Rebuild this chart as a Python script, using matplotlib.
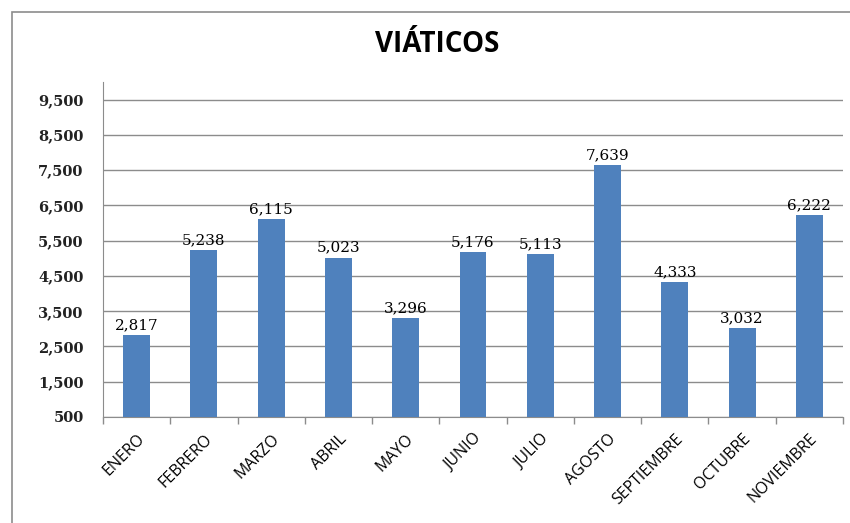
import matplotlib
matplotlib.use('Agg')
import matplotlib.pyplot as plt
from matplotlib.patches import Rectangle
import numpy as np

# Data
meses = ['ENERO', 'FEBRERO', 'MARZO', 'ABRIL', 'MAYO', 'JUNIO', 'JULIO',
         'AGOSTO', 'SEPTIEMBRE', 'OCTUBRE', 'NOVIEMBRE']
viaticos = [2817, 5238, 6115, 5023, 3296, 5176, 5113, 7639, 4333, 3032, 6222]
y_ticks = [500, 1500, 2500, 3500, 4500, 5500, 6500, 7500, 8500, 9500]

bar_color = '#4F81BD'
grid_color = '#8C8C8C'

fig = plt.figure(figsize=(8.5, 5.23), dpi=100)
ax = fig.add_axes([103 / 850, 1 - 417 / 523, 740 / 850, 335 / 523])

# chart border (cropped on right and bottom like the original)
fig.patches.append(Rectangle((12 / 850, -0.1), 1.2, 1 - 12 / 523 + 0.1,
                             transform=fig.transFigure, fill=False,
                             edgecolor='#8C8C8C', linewidth=1.2))

x = np.arange(len(meses))
ax.bar(x, np.array(viaticos) - 500, bottom=500, width=0.4, color=bar_color, zorder=3)

for xi, v in zip(x, viaticos):
    ax.annotate(f'{v:,}', (xi, v), xytext=(0, 2), textcoords='offset points',
                ha='center', va='bottom', fontsize=11,
                family='DejaVu Serif', color='black', zorder=4)

ax.set_xlim(-0.5, len(meses) - 0.5)
ax.set_ylim(500, 10000)
ax.set_yticks(y_ticks)
ax.set_yticklabels([f'{t:,}' for t in y_ticks], family='DejaVu Serif',
                   fontsize=10.5, fontweight='bold', color='#222222')
ax.yaxis.grid(True, color=grid_color, linewidth=1, zorder=0)
ax.tick_params(axis='y', length=0, pad=14)

ax.set_xticks(x)
ax.set_xticklabels(meses, rotation=45, ha='right', rotation_mode='anchor',
                   family='Open Sans', fontsize=11.5)
ax.tick_params(axis='x', which='major', length=0, pad=10)
ax.set_xticks(np.arange(len(meses) + 1) - 0.5, minor=True)
ax.tick_params(axis='x', which='minor', length=5, color=grid_color, width=1)

for s in ['top', 'right']:
    ax.spines[s].set_visible(False)
ax.spines['left'].set_color(grid_color)
ax.spines['bottom'].set_color(grid_color)

fig.text(437 / 850, 1 - 45 / 523, 'VIÁTICOS', ha='center', va='center',
         fontsize=20, fontweight='bold', family='Open Sans')

fig.savefig('out.png', dpi=100)
